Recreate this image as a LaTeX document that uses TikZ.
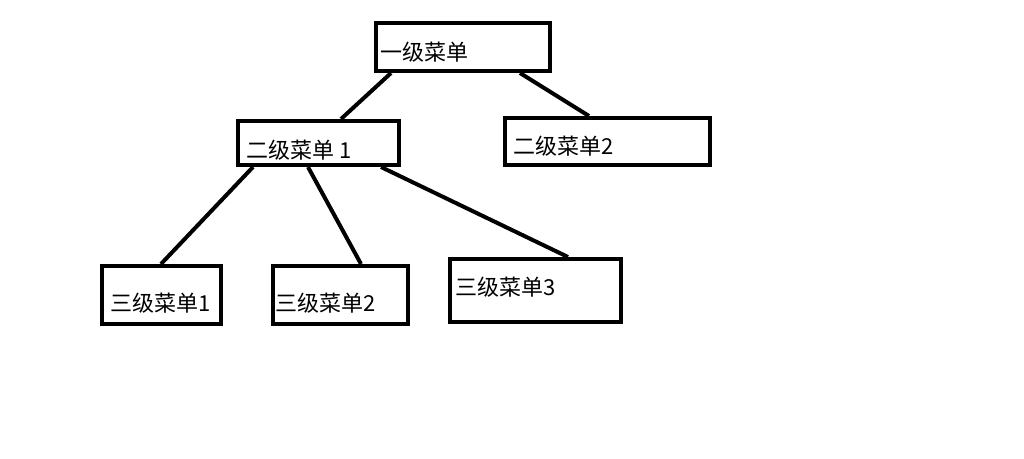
\documentclass[tikz,border=0pt]{standalone}
\usepackage{fontspec}
\setmainfont{Noto Sans CJK SC}
\begin{document}
\begin{tikzpicture}[x=1pt,y=-1pt,
  menubox/.style={draw=black, line width=4pt, rectangle, inner sep=0pt, fill=none},
  menutext/.style={anchor=west, inner sep=0pt, font=\fontsize{22}{26}\selectfont},
  link/.style={draw=black, line width=4pt}]
\useasboundingbox[fill=white] (0,0) rectangle (1024,458);
% boxes
\node[menubox, minimum width=174pt, minimum height=48pt] (A) at (463,47) {};
\node[menubox, minimum width=161pt, minimum height=44pt] (B) at (318.5,143) {};
\node[menubox, minimum width=205pt, minimum height=47pt] (C) at (607.5,141.5) {};
\node[menubox, minimum width=119pt, minimum height=58pt] (D) at (161.5,295) {};
\node[menubox, minimum width=135pt, minimum height=58pt] (E) at (340.5,295) {};
\node[menubox, minimum width=171pt, minimum height=63pt] (F) at (535.5,290.5) {};
% texts
\node[menutext] (tA) at (380,52) {一级菜单};
\node[menutext] (tB) at (246,150) {二级菜单 1};
\node[menutext] (tC) at (513,146) {二级菜单2};
\node[menutext] (tD) at (110,303) {三级菜单1};
\node[menutext] (tE) at (275,303) {三级菜单2};
\node[menutext] (tF) at (455,287) {三级菜单3};
% connectors
\draw[link] ([xshift=17pt]A.south west) -- ([xshift=105pt]B.north west);
\draw[link] ([xshift=146pt]A.south west) -- ([xshift=86pt]C.north west);
\draw[link] ([xshift=17pt]B.south west) -- ([xshift=61pt]D.north west);
\draw[link] ([xshift=72pt]B.south west) -- ([xshift=90pt]E.north west);
\draw[link] ([xshift=145pt]B.south west) -- ([xshift=120pt]F.north west);
\end{tikzpicture}
\end{document}
